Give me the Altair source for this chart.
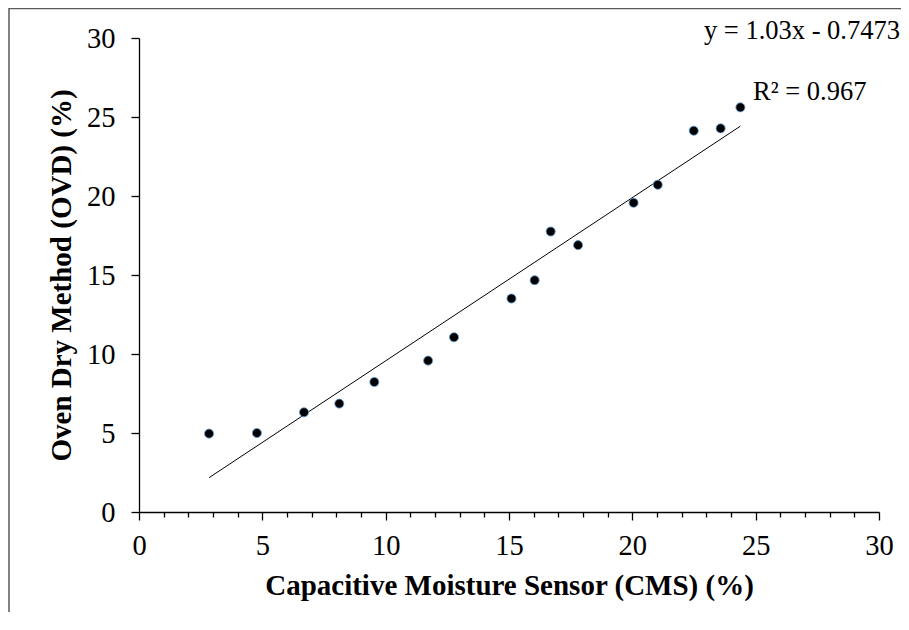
import altair as alt
import pandas as pd

# Data
cms = [2.84, 4.78, 6.69, 8.12, 9.54, 11.72, 12.77, 15.10, 16.04, 16.69, 17.80, 20.05, 21.03, 22.49, 23.58, 24.38]
ovd = [4.96, 5.00, 6.31, 6.86, 8.23, 9.58, 11.06, 13.51, 14.67, 17.75, 16.89, 19.57, 20.71, 24.13, 24.28, 25.61]
x_ticks = list(range(0, 31))
y_ticks = [0, 5, 10, 15, 20, 25, 30]
equation_text = "y = 1.03x - 0.7473"
r2_text = "R² = 0.967"

df = pd.DataFrame({"CMS": cms, "OVD": ovd})
FONT = "Liberation Serif"

x_enc = alt.X(
    "CMS:Q",
    scale=alt.Scale(domain=[0, 30], nice=False, zero=False),
    axis=alt.Axis(
        values=x_ticks,
        title="Capacitive Moisture Sensor (CMS) (%)",
        labelExpr="datum.value % 5 === 0 ? datum.label : ''",
        tickSize={"condition": {"test": "datum.value % 5 === 0", "value": 8}, "value": 5},
        labelPadding=11,
        titlePadding=12,
        grid=False,
        labelOverlap=False,
        labelFlush=False,
    ),
)
y_enc = alt.Y(
    "OVD:Q",
    scale=alt.Scale(domain=[0, 30], nice=False, zero=False),
    axis=alt.Axis(
        values=y_ticks,
        title="Oven Dry Method (OVD) (%)",
        tickSize=8,
        labelPadding=16,
        titlePadding=10,
        grid=False,
        labelFlush=False,
    ),
)

base = alt.Chart(df)

trend = base.transform_regression("CMS", "OVD").mark_line(
    color="black", strokeWidth=1
).encode(x=x_enc, y=y_enc)

points = base.mark_circle(
    size=82, color="black", opacity=1, stroke="#5B9BD5", strokeWidth=0.8
).encode(x=x_enc, y=y_enc)

ann = pd.DataFrame({"t": [equation_text]})
eq = alt.Chart(ann).mark_text(
    font=FONT, fontSize=26.5, align="right", baseline="alphabetic", color="black"
).encode(text="t:N", x=alt.value(761), y=alt.value(1))

ann2 = pd.DataFrame({"t": [r2_text]})
r2 = alt.Chart(ann2).mark_text(
    font=FONT, fontSize=26.5, align="left", baseline="alphabetic", color="black"
).encode(text="t:N", x=alt.value(614), y=alt.value(62))

border_top = alt.Chart(ann).mark_rule(color="#595959", strokeWidth=1.5).encode(
    x=alt.value(-130), x2=alt.value(775), y=alt.value(-29.5)
)
border_left = alt.Chart(ann).mark_rule(color="#595959", strokeWidth=1.5).encode(
    x=alt.value(-130), y=alt.value(-30), y2=alt.value(600)
)

chart = (
    alt.layer(border_top, border_left, trend, points, eq, r2)
    .properties(
        width=740,
        height=474,
        padding={"left": 131, "top": 30, "right": 22, "bottom": 100},
        autosize=alt.AutoSizeParams(type="none"),
    )
    .configure_view(stroke=None)
    .configure_axis(
        domainColor="black",
        domainWidth=1.3,
        tickColor="black",
        tickWidth=1.3,
        labelFont=FONT,
        labelFontSize=28.5,
        labelColor="black",
        titleFont=FONT,
        titleFontSize=29,
        titleFontWeight="bold",
        titleColor="black",
    )
)

chart.save("out.html", embed_options={"renderer": "svg", "actions": False})
